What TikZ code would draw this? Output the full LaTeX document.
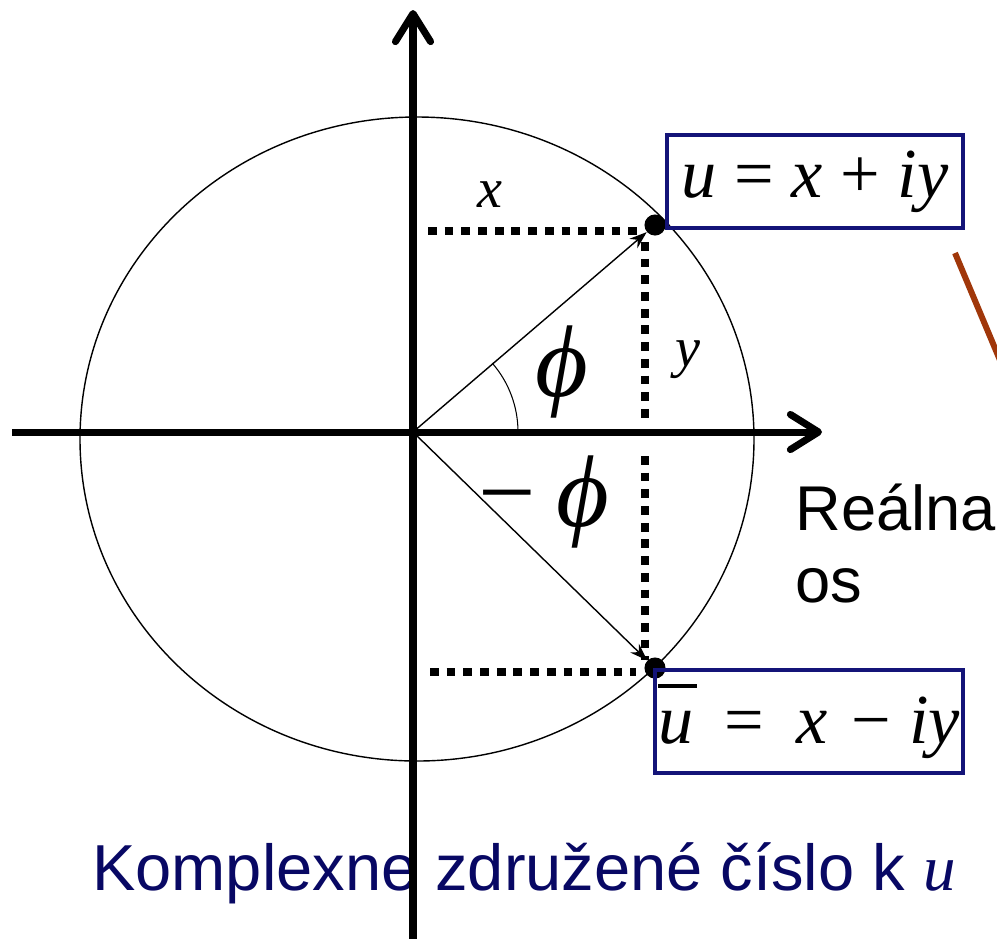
\documentclass[tikz,border=0pt]{standalone}
\usepackage{fontspec}
\setmainfont{Liberation Sans}
\newfontfamily\tms{Liberation Serif}
\usetikzlibrary{arrows.meta,positioning}
\definecolor{navy}{RGB}{20,20,120}
\definecolor{navytext}{RGB}{8,8,100}
\definecolor{rust}{RGB}{160,55,10}

\begin{document}
\begin{tikzpicture}[x=0.02cm, y=-0.02cm,
  axis/.style={line width=4pt, -{Straight Barb[length=16pt,width=20pt,round]}},
  vec/.style={line width=0.8pt, -{Stealth[length=10pt,width=7pt]}},
  proj/.style={line width=5pt, dash pattern=on 5pt off 4.5pt},
  dot/.style={circle, fill, inner sep=0pt, minimum size=12pt},
  eqbox/.style={draw=navy, line width=2pt, inner sep=0pt, font=\tms\fontsize{40}{48}\selectfont},
  lbl/.style={font=\tms\itshape\fontsize{32}{38}\selectfont},
  big/.style={font=\tms\itshape\fontsize{58}{62}\selectfont}]
\useasboundingbox (0,0) rectangle (997,938);
\coordinate (O) at (413,432);
% unit circle and the angle
\draw[line width=0.8pt] (417,439) ellipse [x radius=337, y radius=322];
\draw[line width=0.6pt] (O) ++(105,0) arc[start angle=0, end angle=-41, radius=105];
% caption
\node[anchor=base west, text=navytext, font=\fontsize{37}{44}\selectfont] (cap) at (86,890)
  {Komplexne združené číslo k {\tms\itshape u}};
% axes
\coordinate (xl) at (12,432); \coordinate (xr) at (822,432);
\coordinate (yb) at (413,950); \coordinate (yt) at (413,10);
\draw[axis] (xl) -- (xr);
\draw[axis] (yb) -- (yt);
\node[anchor=north west, align=left, inner sep=0pt, font=\fontsize{36}{41}\selectfont] (re) at (795,484) {Reálna\\os};
% the two points
\node[dot] (u) at (655,225) {};
\node[dot] (ub) at (655,668) {};
\draw[vec] (O) -- (u);
\draw[vec] (O) -- (ub);
% projections
\coordinate (p1) at (428,231); \coordinate (p2) at (638,231);
\coordinate (p3) at (645,242); \coordinate (p4) at (645,424);
\coordinate (p5) at (645,456); \coordinate (p6) at (645,660);
\coordinate (p7) at (430,672); \coordinate (p8) at (636,672);
\draw[proj] (p1) -- (p2);
\draw[proj] (p3) -- (p4);
\draw[proj] (p5) -- (p6);
\draw[proj] (p7) -- (p8);
% labels
\node[lbl] (xlab) at (490,195) {x};
\node[lbl] (ylab) at (688,360) {y};
\node[big] (phi) at (562,372) {ϕ};
\node[big] (mphi) at (544,502) {\upshape−\hspace{0.2em}\itshape ϕ};
\node[eqbox, minimum width=5.92cm, minimum height=1.86cm] (eq1) at (815,181.5)
  {\textit{u} = \textit{x} + \textit{iy}};
\node[eqbox, minimum width=6.16cm, minimum height=2.06cm] (eq2) at (809,721.5)
  {\rlap{\raisebox{0.8em}{\rule{0.55em}{2pt}}}\textit{u}\hspace{0.45em}=\hspace{0.45em}\textit{x}\hspace{0.35em}−\hspace{0.25em}\textit{iy}};
% part of a pointer from outside
\coordinate (br1) at (955,253); \coordinate (br2) at (1002,365);
\draw[rust, line width=3.4pt] (br1) -- (br2);
\end{tikzpicture}
\end{document}
